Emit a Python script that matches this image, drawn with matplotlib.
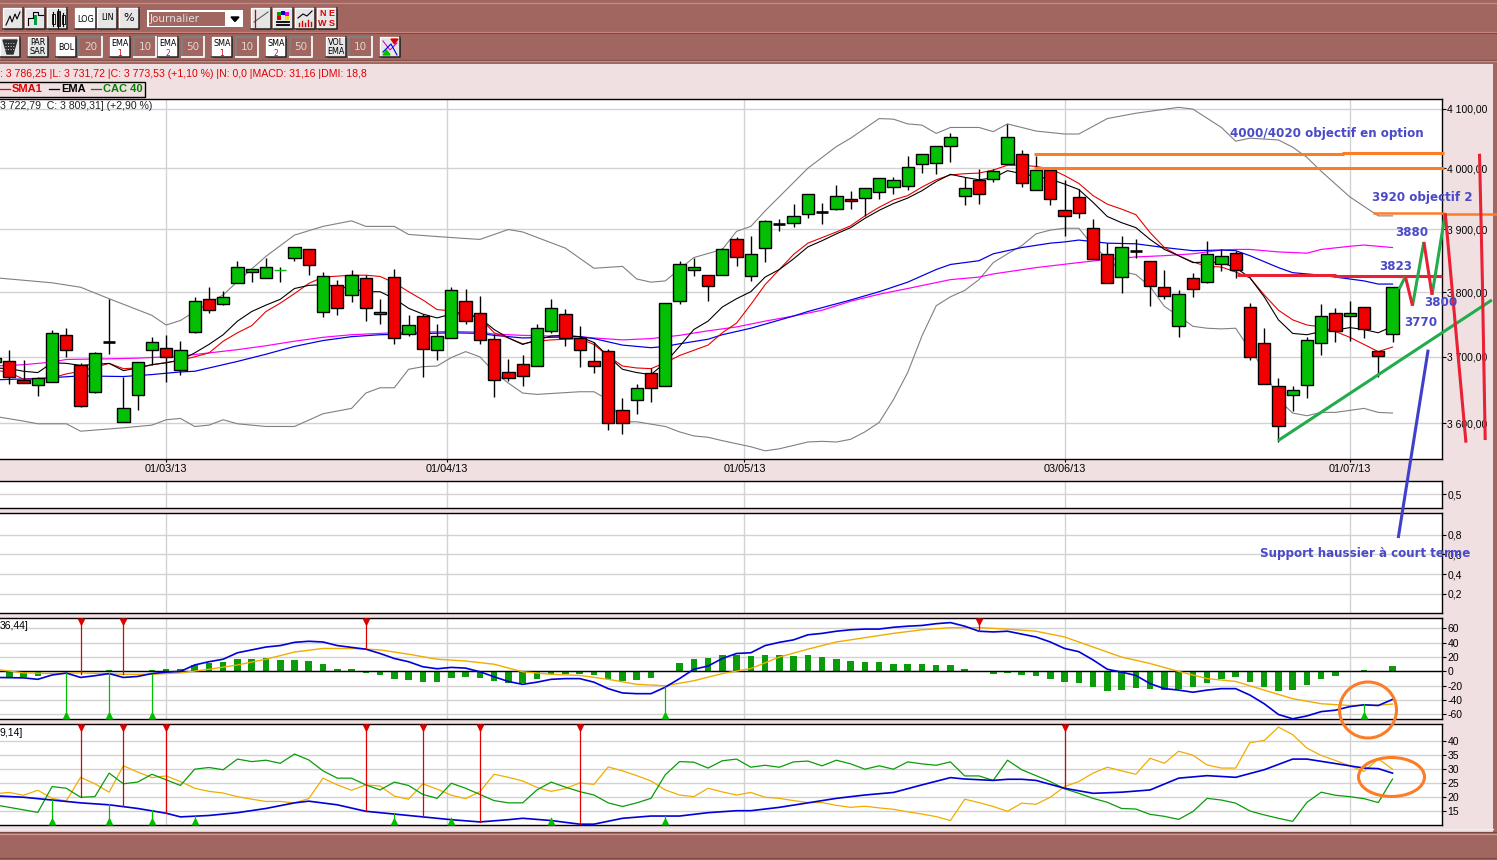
import matplotlib
matplotlib.use("Agg")
import matplotlib.pyplot as plt
from matplotlib.patches import Rectangle, Ellipse
from matplotlib.ticker import NullLocator, FixedLocator, FixedFormatter

plt.rcParams['font.family'] = ['Liberation Sans', 'DejaVu Sans']

W, H = 1497, 860
# ---------- DATA ----------
first_idx = -1
opens = [3692,3694,3665,3657,3662,3734,3688,3646,3722,3601,3642,3711,3714,3680,3738,3789,3781,3814,3832,3822,3835,3854,3869,3769,3812,3796,3822,3766,3824,3735,3763,3711,3729,3787,3767,3727,
         3677,3689,3686,3739,3766,3729,3694,3709,3620,3635,3676,3656,3787,3835,3827,3827,3884,3826,3871,3909,3910,3925,3928,3933,3949,3951,3961,3969,3971,4007,4008,4037,3954,3981,3982,
         4007,4023,3964,3997,3931,3952,3902,3861,3824,3865,3850,3808,3747,3822,3816,3844,3863,3777,3721,3656,3642,3657,3721,3768,3763,3777,3709,3735]
closes = [3698,3670,3660,3668,3737,3711,3626,3706,3722,3623,3692,3723,3700,3711,3787,3773,3793,3840,3837,3840,3835,3872,3843,3825,3775,3828,3775,3770,3729,3749,3712,3732,3804,3755,3726,3664,
          3668,3671,3745,3775,3729,3710,3686,3600,3600,3653,3653,3783,3844,3840,3810,3869,3856,3860,3913,3909,3921,3957,3928,3954,3946,3967,3984,3980,4002,4023,4037,4052,3967,3957,3995,
          4052,3975,3997,3950,3921,3926,3853,3814,3872,3865,3810,3794,3797,3805,3861,3858,3836,3700,3658,3596,3650,3726,3763,3740,3768,3743,3702,3809]
highs = [3705,3711,3695,3670,3742,3745,3690,3708,3789,3669,3692,3730,3733,3725,3792,3808,3802,3850,3837,3855,3840,3872,3869,3832,3819,3835,3828,3790,3837,3765,3766,3751,3809,3806,3794,3735,
         3696,3703,3751,3789,3774,3748,3723,3712,3638,3659,3683,3783,3850,3855,3827,3871,3888,3889,3915,3917,3941,3957,3943,3973,3962,3967,3984,3985,4020,4023,4037,4058,3985,3998,3998,
         4074,4030,4020,3997,3980,3966,3917,3879,3890,3885,3850,3835,3803,3830,3881,3868,3866,3783,3744,3668,3656,3731,3781,3775,3787,3777,3709,3809]
lows = [3680,3658,3660,3640,3662,3700,3624,3645,3705,3601,3619,3687,3662,3673,3736,3768,3780,3814,3817,3822,3816,3849,3827,3761,3764,3785,3756,3750,3719,3732,3669,3695,3729,3751,3719,3639,
        3663,3655,3686,3736,3717,3684,3676,3590,3584,3614,3631,3656,3782,3825,3787,3827,3842,3818,3848,3898,3904,3919,3909,3931,3933,3922,3950,3958,3964,3992,3991,4010,3940,3942,3977,
        4007,3969,3964,3939,3890,3919,3853,3814,3799,3854,3779,3790,3731,3793,3814,3833,3822,3695,3658,3572,3618,3638,3703,3723,3724,3729,3669,3722]
green_doji = [19]

boll_up_idx = [-1,3,5,7,10,11,12,13,15,16,18,20,22,24,25,27,28,31,33,35,36,39,41,43,44,45,46,48,50,51,52,53,56,58,59,61,62,63,64,65,66,68,69,70,72,74,75,77,79,82,83,85,86,87,89,90,91,92,94,96,97]
boll_up = [3823,3815,3808,3790,3764,3749,3756,3770,3796,3817,3857,3891,3905,3914,3905,3905,3892,3887,3884,3900,3896,3870,3838,3841,3821,3816,3818,3855,3868,3897,3905,3930,4000,4036,4050,4083,4082,4074,4072,4058,4068,4068,4061,4074,4062,4057,4057,4083,4092,4102,4099,4068,4045,4050,4047,4035,4018,3995,3953,3922,3922]
boll_lo_idx = [-1,1,2,4,5,8,10,11,12,13,14,15,16,18,20,22,24,25,26,27,28,29,30,31,32,33,34,35,36,37,40,41,42,43,44,46,47,48,49,50,52,53,54,56,57,58,59,60,61,62,63,64,65,66,67,68,69,70,71,72,73,74,75,76,78,79,80,81,82,83,84,85,86,87,88,89,90,91,92,93,94,95,96,97]
boll_lo = [3610,3603,3599,3599,3588,3593,3597,3605,3607,3595,3597,3605,3599,3595,3595,3614,3622,3645,3653,3653,3681,3685,3686,3699,3708,3700,3677,3660,3645,3643,3647,3647,3635,3602,3602,3595,3587,3581,3579,3574,3565,3559,3562,3572,3573,3572,3576,3587,3601,3635,3676,3732,3779,3793,3803,3820,3847,3861,3874,3893,3899,3902,3902,3874,3833,3828,3809,3778,3763,3747,3744,3743,3744,3711,3681,3635,3615,3611,3616,3616,3619,3622,3616,3615]

ema2_idx = [-1,2,5,8,10,12,13,16,18,20,22,24,26,28,31,33,34,36,40,41,43,45,46,47,49,50,52,55,56,59,61,63,65,66,68,69,71,73,74,75,77,79,81,83,85,86,87,89,90,92,94,95,96,97]
ema2 = [3665,3667,3671,3670,3673,3677,3678,3693,3704,3716,3725,3731,3734,3735,3737,3736,3733,3729,3731,3728,3718,3714,3716,3720,3727,3734,3744,3763,3770,3788,3801,3816,3836,3844,3850,3861,3871,3878,3880,3883,3878,3877,3871,3866,3867,3866,3858,3839,3831,3827,3821,3818,3813,3813]
sma2_idx = [-1,1,3,4,7,9,12,14,16,18,20,22,24,27,29,31,33,34,36,40,41,43,45,47,49,51,53,55,57,59,61,63,66,68,69,72,75,77,79,81,83,85,86,87,89,90,91,92,94,95,96,97]
sma2 = [3686,3688,3692,3696,3697,3698,3701,3706,3711,3717,3724,3730,3734,3737,3738,3739,3738,3735,3733,3731,3729,3726,3728,3733,3740,3746,3755,3763,3772,3786,3797,3806,3820,3824,3829,3839,3847,3852,3856,3858,3861,3867,3868,3868,3864,3863,3862,3868,3873,3875,3873,3871]
sma1_idx = [-1,0,1,2,3,4,5,7,8,9,10,11,12,13,14,15,16,17,18,19,20,21,22,24,25,26,27,28,29,30,31,32,33] + list(range(34,98))
sma1 = [3680,3676,3666,3666,3668,3674,3678,3690,3682,3683,3688,3691,3695,3700,3706,3724,3737,3748,3770,3783,3798,3814,3824,3827,3827,3825,3815,3801,3788,3773,3771,3766,3760,
        3737,3729,3720,3724,3726,3727,3728,3719,3701,3686,3683,3682,3691,3702,3710,3718,3737,3752,3781,3812,3836,3860,3878,3887,3896,3906,3922,3936,3948,3955,3969,3981,3989,3991,3992,3997,
        4005,4005,4003,3999,3988,3975,3955,3941,3933,3924,3895,3871,3858,3848,3841,3840,3832,3823,3796,3772,3757,3749,3746,3739,3730,3719,3708,3715]
ema1_idx = [-1,0,1,2,3,4,5,7,8,9,10,11,12,13,14,15,16,17,18,19,20,21,22,24,25,26,27,28,29,30,31,32,33] + list(range(34,72)) + list(range(73,98))
ema1 = [3683,3682,3678,3676,3691,3690,3687,3690,3679,3683,3688,3691,3695,3706,3719,3734,3755,3770,3780,3789,3806,3811,3812,3806,3801,3801,3790,3775,3766,3760,3766,3766,3760,
        3742,3729,3719,3726,3732,3733,3731,3722,3701,3681,3676,3673,3691,3716,3742,3755,3777,3790,3801,3824,3836,3853,3872,3882,3893,3903,3918,3931,3942,3951,3963,3978,3990,3985,3981,3984,
        3996,3991,3982,3974,3965,3944,3921,3911,3903,3884,3868,3858,3847,3848,3847,3839,3823,3793,3757,3736,3734,3739,3741,3745,3742,3737,3747]

macd_hist = [-9,-7.5,-6,0,-1,-1,0.5,2,-1,0,2,3,3,9,12,13,17,17,18,16,16,14.5,10,3,3,-2,-4.5,-11,-12,-15,-15,-9,-8,-9,-13.5,-16,-16,-11,-4,-4,-4,-5,-11,-14,-12,-9,0,11.5,17,18.6,23,23,
             21.5,23,23,21.5,23,20,17,14.5,13,13,10,10,10,9,9,3,-1.5,-3,-2,-5,-6.5,-11,-15,-16,-22,-27,-26,-23,-24.5,-26,-24.5,-22,-16,-11,-8,-15,-22,-27,-26,-19,-11,-6.5,0,2,0,7.5]
macd_idx = [-1] + list(range(1,98))
macd_line = [-8.4,-9,-11,-5,-2.3,-8.4,-6,-3,-8.4,-7,-3,-1,0,9,13.5,17,26,30,34,36,40.5,42,41,36,33.5,31,25,18,13.5,6.5,3.7,5.6,4.6,-0.5,-7.5,-14,-18,-15,-11,-10,-10,-15,-24,-30,-31,-31,-22,-10,3,7.5,18,25,
             26,36,40.5,44,51,53,56,58,59,59,61.5,63,64,66.5,68,63,56,55,56,52,48,41,32,27.5,16,3,-1,-5.6,-17,-24,-26,-29,-26,-24,-24,-33,-45,-60,-66,-62,-56,-54,-49,-46.5,-47.5,-39]
signal_idx = [-1,1,3,5,8,10,12,14,16,18,20,22,24,26,28,30,32,34,36,38,40,42,44,46,48,50,52,54,56,58,60,62,64,66,68,70,72,74,76,78,80,82,84,86,88,90,92,94,96,97]
signal_line = [3,-2,-3,-2,-4,-4,-2,3,9,17,27,32,32,30,24,17,14.5,10,-0.5,-4,-5.6,-11,-18,-20,-13,-3,4,20,31,41,47,53,58,61,61,59,56,48,34,20,11,0,-10,-14,-26,-38,-45,-47.5,-47,-45.5]
macd_sell_idx = [5,8,25,68]
macd_sell_val = [-3,-3,31,56]
macd_buy_idx = [4,7,10,46,95]
macd_buy_val = [-2,-2,-3,-22,-45]

adx_idx = [-1,1,3,5,7,9,11,12,14,16,18,20,21,23,25,27,29,31,33,35,36,38,40,41,43,45,47,49,51,52,54,56,58,60,62,64,66,67,69,70,71,72,74,76,78,80,82,84,86,88,90,91,93,95,96,97]
adx = [20.5,20,19,18,17.3,16,14.3,13,13.5,14.5,16,18,18.6,17.3,15,14,13,12,11.2,12,12.5,11.7,10.4,10.4,12.5,13.3,13.3,14.5,15.2,15.2,16.4,18,19.6,20.8,21.7,24.4,27,26.5,26,26.4,26.4,26,23.2,21.4,21.8,22.6,26.8,27.7,27.1,29.8,33.6,33.6,32,30.4,30.2,28.6]
di_idx = [-1] + list(range(1,98))
di_plus = [17.3,15.5,14.6,23.8,23.2,20,20.2,28.6,24.8,25.4,28.2,26.2,24.2,30,30.6,29.8,33.6,32.7,33.2,32.1,35.4,33.3,29.4,26.8,26.8,24.4,22.6,25.4,24.2,21,19.6,25,23.2,21,18.8,18,18,22.6,25.4,23.6,22,20.8,18,16.7,18,19.6,28,32.7,32.5,30.4,33,33.6,
           30.7,31.4,30.7,32.6,32.9,31.2,33.2,31.9,30,31.2,30,32.6,31.9,31.4,32.6,27.6,27.6,26,33.2,29.8,27.7,25.6,23,21.4,19.6,18.2,16,15.8,13.9,13.2,12.1,14.9,19.6,19,17.9,15.1,13.7,12.5,11.4,18.2,21.8,20.7,20.2,19.5,18.1,26.5]
di_minus_idx = list(range(-1,98))
di_minus = [21.3,21.7,20.7,22.5,19.6,18.7,27.1,24.8,21.8,31.2,29,27,27.6,25.6,23.2,22.1,21.5,20.2,19.3,18.5,18.5,18,19.5,26.8,24.4,22.5,24.4,24,20.4,19.3,24.8,22.9,20.7,19.5,22,28.2,27.1,25.8,23.5,22.1,23.1,25.1,24.6,30.8,29.4,27.7,25.8,22.6,20.8,20.2,23.2,21.9,20.8,
            21.7,20,19.6,18.8,18.1,18.1,17.1,16.4,16.8,16.2,15.7,14.8,14,13.1,11.7,19.3,18.1,16.7,15,17.9,17.5,20,23.8,25.6,28.6,30.7,29.4,28.2,33.9,32.1,36.4,35,31.5,30.4,30.4,39.5,40.2,45,42.3,37.5,34.9,33.1,31.2,29.2,33.7,30]
dmi_sell_idx = [5,8,11,25,29,33,40,74]
dmi_sell_val = [20,16.8,14.3,15,13,11.2,10.4,23.8]
dmi_buy_idx = [3,7,10,13,27,31,38,46]
dmi_buy_val = [19,17.5,15.5,13.8,14,12.5,12.5,13.3]

price_ticks = [3600,3700,3800,3900,4000,4100]
price_labels = ['3 600,00','3 700,00','3 800,00','3 900,00','4 000,00','4 100,00']
date_pos = [11,30.67,51.55,74,94.02]
date_labels = ['01/03/13','01/04/13','01/05/13','03/06/13','01/07/13']
macd_ticks = [60,40,20,0,-20,-40,-60]
dmi_ticks = [40,35,30,25,20,15]

# hand-drawn annotations (candle index, price)
level_4020 = ([71.85,79.1,79.1,93.5,93.5,100.6],[4023,4023,4024,4024,4026,4026])
level_4000 = ([71.85,100.6],[4000,4000])
level_3920 = ([95.6,100.6,100.6,104.3],[3927,3927,3925,3925])
level_3823 = ([86.1,93.0,93.0,100.5],[3828,3828,3826,3826])
wave_green = [([97.46,97.9],[3805,3825]),([98.4,99.2],[3779,3880]),([99.77,100.7],[3796,3926])]
wave_red = [([97.9,98.4],[3825,3779]),([99.2,99.77],[3880,3796]),([100.7,102.15],[3926,3571])]
red_right = ([103.1,103.3,103.5],[4024,3820,3575])
trend_green = ([88.97,103.97],[3574,3788])
arrow_blue = ([99.5,97.4],[3711,3433])

# ---------- LAYOUT ----------
BROWN, PINK = '#a1665f', '#f0e0e2'
GRID = '#d2d2d2'
fig = plt.figure(figsize=(W/100, H/100), dpi=100, facecolor=PINK)
PX_L, PX_R = 0, 1442
def x_px_to_idx(p): return (p-9.3)/14.26
XLIM = (x_px_to_idx(PX_L), x_px_to_idx(PX_R))

def panel(y0, y1, zorder=2):
    ax = fig.add_axes([PX_L/W, 1-y1/H, (PX_R-PX_L)/W, (y1-y0)/H], zorder=zorder)
    ax.set_xlim(*XLIM)
    ax.spines['left'].set_visible(False)
    for s in ('top','right','bottom'):
        ax.spines[s].set_linewidth(1.0)
    ax.set_facecolor('white')
    ax.yaxis.tick_right()
    ax.tick_params(axis='y', which='major', length=3, width=0.8, labelsize=7.5, pad=0.8, colors='black')
    ax.tick_params(axis='y', which='minor', length=0)
    ax.set_xticks(date_pos)
    ax.set_xticklabels([])
    ax.tick_params(axis='x', length=0)
    ax.grid(True, axis='both', color=GRID, lw=1.0, zorder=0)
    ax.set_axisbelow(True)
    return ax

# main
ax = panel(98.5, 459, zorder=5)
ax.set_yscale('log')
ax.set_ylim(3547, 4117)
ax.yaxis.set_major_locator(FixedLocator(price_ticks))
ax.yaxis.set_major_formatter(FixedFormatter(price_labels))
ax.yaxis.set_minor_locator(NullLocator())
ax.set_xticklabels(date_labels, fontsize=7.8)
ax.tick_params(axis='x', length=2, width=0.8, pad=1.5, color='black')

LW = 0.8
ax.plot(boll_up_idx, boll_up, color='#808080', lw=LW, zorder=2)
ax.plot(boll_lo_idx, boll_lo, color='#808080', lw=LW, zorder=2)
ax.plot(sma2_idx, sma2, color='#ff00ff', lw=LW*1.1, zorder=2)
ax.plot(ema2_idx, ema2, color='#0000e6', lw=LW*1.1, zorder=2)
ax.plot(sma1_idx, sma1, color='#e80000', lw=LW, zorder=2)
ax.plot(ema1_idx, ema1, color='black', lw=LW, zorder=2)

for k, (o, c, h, l) in enumerate(zip(opens, closes, highs, lows)):
    i = k + first_idx
    ax.plot([i, i], [l, h], color='black', lw=1.0, zorder=3, solid_capstyle='butt')
    if o == c:
        col = '#00c000' if i in green_doji else 'black'
        ax.plot([i-0.43, i+0.43], [o, o], color=col, lw=1.0 if i in green_doji else 1.9, zorder=4, solid_capstyle='butt')
    else:
        col = '#04c004' if c > o else '#f00000'
        b = min(o, c)
        ax.add_patch(Rectangle((i-0.43, b), 0.86, abs(c-o), fc=col, ec='black', lw=1.0, zorder=4))

def ann(xy, col, lw=2.2):
    ax.plot(xy[0], xy[1], color=col, lw=lw, zorder=7, clip_on=False, solid_capstyle='butt')
ORANGE = '#fb7d26'
ann(level_4020, ORANGE); ann(level_4000, ORANGE); ann(level_3920, ORANGE, 1.8)
ann(level_3823, '#ea2034')
ann(trend_green, '#22ac4c')
for seg in wave_green: ann(seg, '#22ac4c')
for seg in wave_red: ann(seg, '#ea2034')
ann(red_right, '#ea2034')
ann(arrow_blue, '#4040cc')

# empty panels
p2 = panel(480.5, 507.5)
p2.set_ylim(0.0, 1.0)
p2.set_yticks([0.5]); p2.set_yticklabels(['0,5'])
p3 = panel(512.5, 613.3)
p3.set_ylim(0.0, 1.026)
p3.set_yticks([0.8,0.6,0.4,0.2]); p3.set_yticklabels(['0,8','0,6','0,4','0,2'])

def signals(a, bidx, bval, sidx, sval, height_px):
    for i, v in zip(sidx, sval):
        a.plot([i, i], [v, a.get_ylim()[1]], color='#e00000', lw=0.9, zorder=4)
    for i, v in zip(bidx, bval):
        a.plot([i, i], [a.get_ylim()[0], v], color='#00c000', lw=0.9, zorder=4)
    t = a.get_xaxis_transform()
    a.plot(sidx, [1-4/height_px]*len(sidx), 'v', ms=5.8, color='#e00000', mec='none', transform=t, zorder=5)
    a.plot(bidx, [4/height_px]*len(bidx), '^', ms=5.8, color='#00c000', mec='none', transform=t, zorder=5)

# MACD
p4 = panel(618.3, 719.3)
p4.set_ylim(-66.7, 74)
p4.set_yticks(macd_ticks); p4.set_yticklabels([str(v) for v in macd_ticks])
p4.bar(range(0, 98), macd_hist, width=0.46, color='#0a9c0a', zorder=2)
p4.axhline(0, color='black', lw=1.0, zorder=3)
p4.plot(signal_idx, signal_line, color='#f0ad00', lw=1.0, zorder=3)
p4.plot(macd_idx, macd_line, color='#0000d8', lw=1.2, zorder=3.5)
signals(p4, macd_buy_idx, macd_buy_val, macd_sell_idx, macd_sell_val, 101)

# DMI
p5 = panel(724.3, 825.3)
p5.set_ylim(10, 46)
p5.set_yticks(dmi_ticks); p5.set_yticklabels([str(v) for v in dmi_ticks])
p5.plot(di_minus_idx, di_minus, color='#f0ad00', lw=0.9, zorder=3)
p5.plot(di_idx, di_plus, color='#0a9c0a', lw=0.9, zorder=3)
p5.plot(adx_idx, adx, color='#0000d8', lw=1.2, zorder=3.5)
signals(p5, dmi_buy_idx, dmi_buy_val, dmi_sell_idx, dmi_sell_val, 101)

# ---------- OVERLAY (window chrome, text in pixels) ----------
ov = fig.add_axes([0, 0, 1, 1], zorder=10)
ov.set_xlim(0, W); ov.set_ylim(H, 0); ov.axis('off')
under = fig.add_axes([0, 0, 1, 1], zorder=0)
under.set_xlim(0, W); under.set_ylim(H, 0); under.axis('off')

def rect(a, x0, y0, x1, y1, fc, ec='none', lw=0):
    a.add_patch(Rectangle((x0, y0), x1-x0, y1-y0, fc=fc, ec=ec, lw=lw))

rect(under, 0, 0, W, 64, BROWN)
rect(under, 0, 832, W, H, BROWN)
rect(under, 1493, 0, W, H, '#a1665f')
for y, c in [(3, '#c88a84'), (32, '#d68c84'), (33, '#7a4a45'), (60, '#7a4a45'), (61, '#c88a84'), (832, '#7a4a45'), (834, '#d09a94'), (858, '#7a4a45')]:
    under.plot([0, W], [y, y], color=c, lw=0.9)
under.plot([0, 1493], [829, 829], color='#e8f0f4', lw=0.9)

def button(x0, y0, x1, y1, fc='#e6e6e6'):
    rect(ov, x0, y0, x1, y1, fc)
    ov.plot([x0, x0, x1], [y1, y0, y0], color='white', lw=0.9)
    ov.plot([x0, x1, x1], [y1, y1, y0], color='#202020', lw=1.1)
def txt(x, y, s, size=6.5, col='black', **kw):
    kw.setdefault('ha', 'center'); kw.setdefault('va', 'center')
    ov.text(x, y, s, fontsize=size, color=col, **kw)
def btxt(x, y, s, size=5.8, col='black'):
    ov.text(x, y, s, fontsize=size, color=col, family='DejaVu Sans', ha='center', va='center')
def box(x0, x1, y0, y1, s):
    rect(ov, x0, y0, x1, y1, BROWN)
    ov.plot([x0, x0, x1], [y1, y0, y0], color='#808080', lw=1.4)
    ov.plot([x0, x1, x1], [y1, y1, y0], color='#f0f0f0', lw=1.4)
    btxt((x0+x1)/2, (y0+y1)/2, s, 7.5, '#d8d8d8')

for x0 in (3, 25, 47):
    button(x0, 8, x0+20, 29)
ov.plot([6, 10, 12, 15, 17, 20], [25, 16, 22, 14, 19, 12], color='black', lw=0.8)
ov.plot([28, 28, 33, 33, 38, 38, 43], [25, 18, 18, 12, 12, 15, 15], color='black', lw=0.8)
rect(ov, 34, 15, 37, 25, '#00a040')
for xc, a, b, c in [(53, 14, 24, 'white'), (58, 11, 26, '#e00000'), (63, 15, 24, 'white')]:
    ov.plot([xc, xc], [a-2, b+2], color='black', lw=0.8); rect(ov, xc-1.5, a, xc+1.5, b, c, 'black', 0.6)
button(75, 8, 96, 29, 'white'); btxt(86, 19, 'LOG')
button(97, 8, 117, 29); btxt(107, 18, 'LIN')
button(119, 8, 139, 29); btxt(129, 18, '%', 8)
rect(ov, 147, 10, 243, 27, 'white'); rect(ov, 149, 11.5, 225, 25.5, BROWN)
ov.text(150, 18.5, 'Journalier', fontsize=7.5, color='#e0e0e0', family='DejaVu Sans', ha='left', va='center')
ov.fill([231, 239, 235], [17, 17, 21.5], color='black')
for x0 in (251, 273, 295, 317):
    button(x0, 8, x0+20, 29)
ov.plot([254, 268], [22, 12], color='#606060', lw=0.8); ov.plot([255, 255], [10, 27], color='#c00000', lw=0.9)
for (xa, ya, c) in [(277, 12, '#00a000'), (281, 11, '#0000d0'), (285, 12, '#e800e8'), (277, 16, '#e00000'), (285, 16, '#e8e800')]:
    rect(ov, xa, ya, xa+4, ya+4, c)
ov.plot([277, 289], [22, 22], color='black', lw=1.3); ov.plot([277, 289], [25, 25], color='black', lw=1.3)
ov.plot([298, 303, 307, 312], [18, 14, 16, 11], color='black', lw=0.8)
for xb, hb in [(299, 3), (302, 5), (305, 3), (308, 6), (311, 4)]:
    ov.plot([xb, xb], [26, 26-hb], color='#d00000', lw=1.0)
txt(327, 14, 'N E', 6.5, '#e00000', fontweight='bold'); txt(327, 23, 'W S', 6.5, '#e00000', fontweight='bold')

button(0, 37, 20, 57)
ov.fill([3, 17, 13, 7], [40, 40, 54, 54], color='#303030')
for yy in (43, 46, 49):
    ov.plot([5, 15], [yy, yy], color='#d0d0d0', lw=0.7, ls=':')
button(28, 37, 48, 57); btxt(38, 42.5, 'PAR'); btxt(38, 51.5, 'SAR')
button(56, 37, 76, 57, 'white'); btxt(66, 47.5, 'BOL')
box(79, 102, 37, 57, '20')
for x0, l, n, c, bx, v in [(110, 'EMA', '1', '#d00000', 134, '10'), (158, 'EMA', '2', '#c000c0', 182, '50'), (212, 'SMA', '1', '#d00000', 236, '10'), (266, 'SMA', '2', '#c000c0', 290, '50')]:
    button(x0, 37, x0+20, 57, 'white')
    btxt(x0+10, 44, l); btxt(x0+10, 53, n, 5.5, c)
    box(bx, bx+22, 37, 57, v)
button(326, 37, 346, 57); btxt(336, 42.5, 'VOL'); btxt(336, 51.5, 'EMA')
box(349, 372, 37, 57, '10')
button(380, 37, 400, 57)
ov.plot([383, 390, 397], [41, 50, 43], color='#e000e0', lw=0.8); ov.plot([383, 391, 397], [52, 44, 55], color='#0000d0', lw=0.8)
ov.fill([391, 398, 394.5], [39, 39, 44], color='#e00000'); ov.fill([383, 390, 386.5], [55, 55, 50], color='#00c000')

# info lines
txt(0, 74, ': 3 786,25 |L: 3 731,72 |C: 3 773,53 (+1,10 %) |N: 0,0 |MACD: 31,16 |DMI: 18,8', 7.55, '#e00000', ha='left')
ov.add_patch(Rectangle((-2, 81.5), 147, 15, fc='none', ec='black', lw=1.0))
ov.plot([0, 10], [89, 89], color='#e00000', lw=0.9); txt(12, 89, 'SMA1', 8, '#e00000', ha='left', fontweight='bold')
ov.plot([49, 59], [89, 89], color='black', lw=0.9); txt(61, 89, 'EMA', 8, 'black', ha='left', fontweight='bold')
ov.plot([91, 101], [89, 89], color='#008000', lw=0.9); txt(103, 89, 'CAC 40', 8, '#008000', ha='left', fontweight='bold')
txt(0, 106, '3 722,79  C: 3 809,31] (+2,90 %)', 7.55, '#202020', ha='left')
txt(0, 626, '36,44]', 7.5, ha='left'); txt(0, 733, '9,14]', 7.5, ha='left')

# ellipses
ov.add_patch(Ellipse((1368, 710), 57, 56, fc='none', ec=ORANGE, lw=2.2))
ov.add_patch(Ellipse((1391.5, 777), 66, 39, fc='none', ec=ORANGE, lw=2.2))

# blue labels
BL = '#4a4ac8'
def lab(x, y, s):
    ov.text(x, y, s, color=BL, fontsize=8.6, fontweight='bold', family='DejaVu Sans', ha='center', va='center')
lab(1327, 134, '4000/4020 objectif en option')
lab(1422, 198, '3920 objectif 2')
lab(1412, 232, '3880'); lab(1396, 266, '3823'); lab(1441, 303, '3800'); lab(1421, 323, '3770')
lab(1365, 553, 'Support haussier à court terme')

fig.savefig('out.png', dpi=100, facecolor=PINK)
